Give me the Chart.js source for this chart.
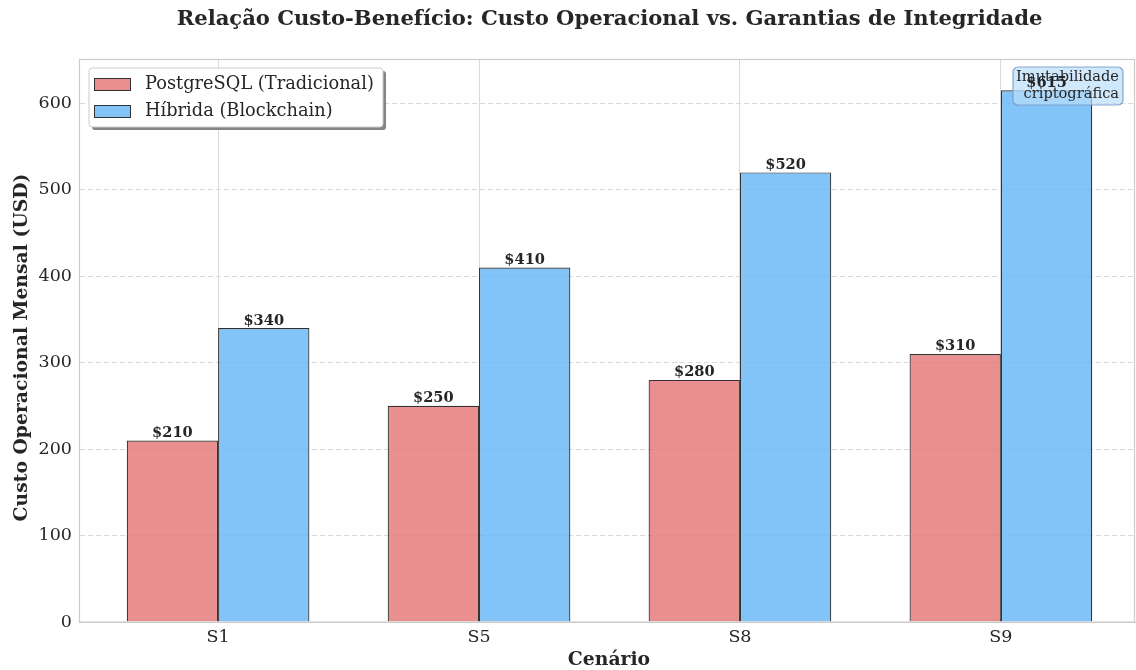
<!DOCTYPE html>
<html><head><meta charset="utf-8">
<script src="https://cdn.jsdelivr.net/npm/chart.js@4"></script>
<style>html,body{margin:0;padding:0;background:#fff}#wrap{width:1136px;height:670px}</style>
</head><body><div id="wrap"><canvas id="c" width="1136" height="670"></canvas></div>
<script>
const categories = ['S1', 'S5', 'S8', 'S9'];
const postgresValues = [210, 250, 280, 310];
const hybridValues = [340, 410, 520, 615];
const seriesLabels = ['PostgreSQL (Tradicional)', 'Híbrida (Blockchain)'];
const yTicks = [0, 100, 200, 300, 400, 500, 600];
const titleText = 'Relação Custo-Benefício: Custo Operacional vs. Garantias de Integridade';
const xTitle = 'Cenário';
const yTitle = 'Custo Operacional Mensal (USD)';
const noteLines = ['Imutabilidade', 'criptográfica'];

const SERIF = '"DejaVu Serif", serif';
const redFill = 'rgba(229,115,115,0.8)';
const blueFill = 'rgba(100,181,246,0.8)';
const seriesValues = [postgresValues, hybridValues];

const decor = {
  id: 'decor',
  afterDraw(chart) {
    const ctx = chart.ctx, a = chart.chartArea;
    ctx.save();
    // frame
    ctx.strokeStyle = '#cccccc'; ctx.lineWidth = 1.2;
    ctx.strokeRect(a.left + 0.5, a.top - 0.5, a.right - a.left - 1, a.bottom - a.top + 0.5);
    // title
    ctx.fillStyle = '#262626'; ctx.font = 'bold 21.1px ' + SERIF;
    ctx.textAlign = 'center'; ctx.textBaseline = 'middle';
    ctx.fillText(titleText, 609.5, 20);
    // axis titles
    ctx.font = 'bold 18.8px ' + SERIF;
    ctx.fillText(xTitle, 609, 660);
    ctx.save(); ctx.translate(22, 347.5); ctx.rotate(-Math.PI / 2);
    ctx.fillText(yTitle, 0, 0); ctx.restore();
    // annotation box
    const bx = 1013, by = 67, bw = 110, bh = 38;
    ctx.beginPath(); ctx.roundRect(bx, by, bw, bh, 5);
    ctx.fillStyle = 'rgba(187,222,251,0.7)'; ctx.fill();
    ctx.strokeStyle = 'rgba(110,150,190,0.8)'; ctx.lineWidth = 1.2; ctx.stroke();
    // value labels
    ctx.fillStyle = '#262626';
    ctx.font = 'bold 14.6px ' + SERIF; ctx.textAlign = 'center'; ctx.textBaseline = 'bottom';
    chart.data.datasets.forEach((ds, i) => {
      chart.getDatasetMeta(i).data.forEach((bar, j) => {
        ctx.fillText('$' + seriesValues[i][j], bar.x, bar.y);
      });
    });
    // annotation text
    ctx.fillStyle = '#262626'; ctx.font = '14.6px ' + SERIF;
    ctx.textAlign = 'right'; ctx.textBaseline = 'middle';
    ctx.fillText(noteLines[0], 1119, 77);
    ctx.fillText(noteLines[1], 1119, 94);
    // legend
    const lx = 89, ly = 68, lw = 294, lh = 59;
    ctx.fillStyle = 'rgba(120,120,120,0.9)';
    ctx.beginPath(); ctx.roundRect(lx + 3, ly + 3, lw, lh, 3); ctx.fill();
    ctx.fillStyle = '#ffffff'; ctx.strokeStyle = '#cccccc'; ctx.lineWidth = 1;
    ctx.beginPath(); ctx.roundRect(lx, ly, lw, lh, 3); ctx.fill(); ctx.stroke();
    ctx.font = '17.8px ' + SERIF; ctx.textAlign = 'left'; ctx.textBaseline = 'middle';
    chart.data.datasets.forEach((ds, i) => {
      const cy = 84 + i * 27;
      ctx.fillStyle = ds.backgroundColor; ctx.fillRect(94, cy - 6, 37, 12);
      ctx.strokeStyle = '#333333'; ctx.lineWidth = 1; ctx.strokeRect(94.5, cy - 5.5, 36, 12);
      ctx.fillStyle = '#262626'; ctx.fillText(ds.label, 145, cy);
    });
    ctx.restore();
  }
};

new Chart(document.getElementById('c'), {
  type: 'bar',
  data: {
    datasets: [
      { label: seriesLabels[0], data: postgresValues.map((v, i) => ({ x: i, y: v })), backgroundColor: redFill, borderColor: '#333333', borderWidth: 1.2 },
      { label: seriesLabels[1], data: hybridValues.map((v, i) => ({ x: i, y: v })), backgroundColor: blueFill, borderColor: '#333333', borderWidth: 1.2 }
    ]
  },
  options: {
    responsive: false, animation: false,
    layout: { padding: { top: 60, right: 1, left: 0, bottom: 0 } },
    plugins: { legend: { display: false }, title: { display: false }, tooltip: { enabled: false } },
    datasets: { bar: { categoryPercentage: 0.7, barPercentage: 1.0 } },
    scales: {
      x: {
        type: 'linear', min: -0.533, max: 3.514, offset: false,
        afterBuildTicks(s) { s.ticks = categories.map((c, i) => ({ value: i })); },
        grid: { display: true, offset: false, color: '#d9d9d9', lineWidth: 1, drawTicks: false },
        border: { display: true, color: '#cccccc' },
        ticks: { color: '#262626', font: { family: SERIF, size: 17.5 }, padding: 5, callback: (v) => categories[v] },
        title: { display: false },
        afterFit(s) { s.height = 48; }
      },
      y: {
        min: 0, max: 650,
        afterBuildTicks(s) { s.ticks = yTicks.map(v => ({ value: v })); },
        grid: { color: '#d9d9d9', lineWidth: 1, drawTicks: false },
        border: { display: true, color: '#cccccc', dash: [5, 3] },
        ticks: { color: '#262626', font: { family: SERIF, size: 17.5 }, padding: 7 },
        title: { display: false },
        afterFit(s) { s.width = 79; }
      }
    }
  },
  plugins: [decor]
});
</script></body></html>
